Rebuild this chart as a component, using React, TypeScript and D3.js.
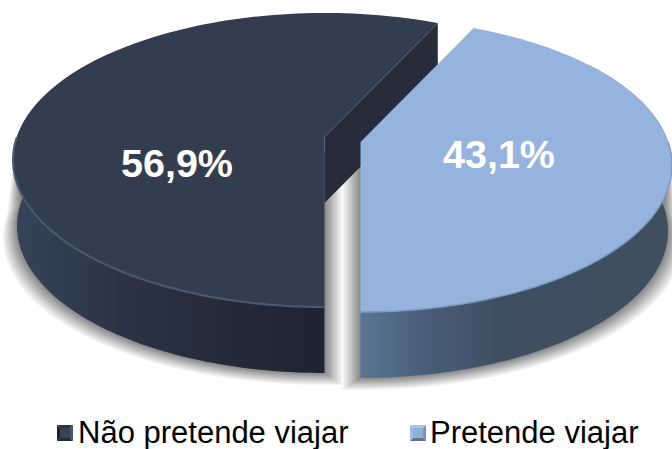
import React from "react";
import * as d3 from "d3";

const categories = ["Não pretende viajar", "Pretende viajar"];
const shares = [56.9, 43.1];
const shareLabels = ["56,9%", "43,1%"];
const sliceOffsetX = [0, 36];
const sliceOffsetY = [0, 5];
const topColors = ["#323e50", "#95b3dc"];
const rimColors = ["#4d5a6e", "#7e9cc2"];
const labelPos: [number, number][] = [[177, 177], [499, 168]];
const legendMarkerX = [57, 410];
const legendTextX = [78, 430];

const W = 672, H = 449;
const tilt = 0.156; // perspective shift of the pie's centre
const depth = 66;
const xScale = d3.scaleLinear().domain([-1, 1]).range([13, 636]);
const yScale = d3.scaleLinear().domain([-1, 1]).range([307, 13]);
const xScaleLow = d3.scaleLinear().domain([-1, 1]).range([17, 632]);

const pieGen = d3.pie<number>().sort(null).startAngle(Math.PI).endAngle(3 * Math.PI);
const arcs = pieGen(shares);

function project(theta: number) {
  const x = Math.sin(theta), y = Math.cos(theta);
  const d = 1 + tilt * y;
  return { u: (x * Math.sqrt(1 - tilt * tilt)) / d, v: (y + tilt) / d };
}
const apexOf = (i: number): [number, number] => {
  return [xScale(0) + sliceOffsetX[i], yScale(tilt) + sliceOffsetY[i]];
};
const topPt = (t: number, i: number): [number, number] => {
  const p = project(t);
  return [xScale(p.u) + sliceOffsetX[i], yScale(p.v) + sliceOffsetY[i]];
};
const lowPt = (t: number, i: number): [number, number] => {
  const p = project(t);
  return [xScaleLow(p.u) + sliceOffsetX[i], yScale(p.v) + sliceOffsetY[i] + depth];
};
const range = (a: number, b: number) => d3.range(0, 121).map((k) => a + ((b - a) * k) / 120);
const line = d3.line();

const topPath = (i: number) =>
  line([apexOf(i), ...range(arcs[i].startAngle, arcs[i].endAngle).map((t) => topPt(t, i))]) + "Z";

const sideRange = (i: number) =>
  i === 0
    ? range(arcs[0].startAngle, Math.PI * 1.72)
    : range(arcs[1].endAngle - Math.PI * 0.7, arcs[1].endAngle);
const sidePath = (i: number) => {
  const r = sideRange(i);
  return line([...r.map((t) => topPt(t, i)), ...r.slice().reverse().map((t) => lowPt(t, i))]) + "Z";
};
const rimRange = (i: number) =>
  i === 0 ? range(arcs[0].startAngle, Math.PI * 1.5) : range(arcs[1].endAngle - Math.PI * 0.5, arcs[1].endAngle);
const rimPath = (i: number) => line(rimRange(i).map((t) => topPt(t, i))) || "";

// expanded copy of the lower outline, used for the soft grey shadow
const haloPath = (i: number, k: number) => {
  const outerAngle = i === 0 ? Math.PI * 1.5 : arcs[1].endAngle - Math.PI * 0.5;
  const r = i === 0 ? range(Math.PI, outerAngle) : range(outerAngle, arcs[1].endAngle);
  const c = xScale(0) + sliceOffsetX[i];
  const side = i === 0 ? 1 : -1;
  const pts: [number, number][] = r.map((t) => {
    const [x, y] = lowPt(t, i);
    const d = (x - c) / 308;
    return [x + d * k, y + k * 0.85];
  });
  const [ex, ey] = lowPt(Math.PI, i);
  const edgeX = ex + side * k * 1.25;
  const topY = yScale(tilt) + 15;
  const path: [number, number][] = [
    [edgeX, topY],
    [edgeX, ey + k * 0.85],
    ...(i === 0 ? pts : pts.slice().reverse()),
    topPt(outerAngle, i),
  ];
  return line(path) + "Z";
};

const wall = () => {
  const outer = topPt(arcs[0].endAngle, 0);
  const a = apexOf(0);
  return line([a, outer, [outer[0], outer[1] + depth], [a[0], a[1] + depth]]) + "Z";
};

function Marker({ x, y, s, colors }: { x: number; y: number; s: number; colors: string[] }) {
  const i = 3;
  const faces: [number, number][][] = [
    [[x, y], [x + s, y], [x + s - i, y + i], [x + i, y + i]],
    [[x + s, y], [x + s, y + s], [x + s - i, y + s - i], [x + s - i, y + i]],
    [[x + s, y + s], [x, y + s], [x + i, y + s - i], [x + s - i, y + s - i]],
    [[x, y + s], [x, y], [x + i, y + i], [x + i, y + s - i]],
  ];
  return (
    <g>
      {faces.map((f, k) => (
        <path key={k} d={line(f) + "Z"} fill={colors[k]} />
      ))}
      <rect x={x + i} y={y + i} width={s - 2 * i} height={s - 2 * i} fill={colors[4]} />
    </g>
  );
}

const markerColors = [
  ["#2a3442", "#4a5565", "#232c39", "#1e2631", "#384454"],
  ["#a9c3e4", "#7f93aa", "#5e738d", "#9fbbdf", "#8fb0da"],
];

const haloSteps = [14, 13, 12, 11, 10, 9, 8, 7, 6, 5, 4, 3, 2, 1];
const haloGray = d3.scaleLinear<string>().domain([14, 1]).range(["#f4f4f4", "#8c8c8c"]);

export default function App() {
  return (
    <svg
      width={W}
      height={H}
      viewBox={`0 0 ${W} ${H}`}
      style={{ position: "absolute", left: 0, top: 0, background: "#fff" }}
    >
      <defs>
        <linearGradient id="side0" x1="0" x2="1" y1="0" y2="0">
          <stop offset="0" stopColor="#36445a" />
          <stop offset="0.35" stopColor="#2a3445" />
          <stop offset="0.7" stopColor="#232b39" />
          <stop offset="1" stopColor="#1d2532" />
        </linearGradient>
        <linearGradient id="side1" x1="0" x2="1" y1="0" y2="0">
          <stop offset="0" stopColor="#5a7595" />
          <stop offset="0.2" stopColor="#4a5f78" />
          <stop offset="0.45" stopColor="#3f4f62" />
          <stop offset="1" stopColor="#3f4f60" />
        </linearGradient>
      </defs>

      {haloSteps.map((k) => (
        <g key={k} fill={haloGray(k)}>
          <path d={haloPath(0, k)} />
          <path d={haloPath(1, k)} />
        </g>
      ))}

      <path d={sidePath(0)} fill="url(#side0)" />
      <path d={wall()} fill="#252d3a" />
      <path d={topPath(0)} fill={topColors[0]} />
      <path d={rimPath(0)} fill="none" stroke={rimColors[0]} strokeWidth={2} />

      <path d={sidePath(1)} fill="url(#side1)" />
      <path d={topPath(1)} fill={topColors[1]} />
      <path d={rimPath(1)} fill="none" stroke={rimColors[1]} strokeWidth={1.5} />

      {shareLabels.map((l, i) => (
        <text
          key={l}
          x={labelPos[i][0]}
          y={labelPos[i][1]}
          textAnchor="middle"
          fill="#fff"
          fontFamily="Liberation Sans"
          fontWeight="bold"
          fontSize={39.5}
        >
          {l}
        </text>
      ))}

      {categories.map((c, i) => (
        <g key={c}>
          <Marker x={legendMarkerX[i]} y={425} s={16} colors={markerColors[i]} />
          <text x={legendTextX[i]} y={443} fontFamily="Liberation Sans" fontSize={31} fill="#000">
            {c}
          </text>
        </g>
      ))}
    </svg>
  );
}
